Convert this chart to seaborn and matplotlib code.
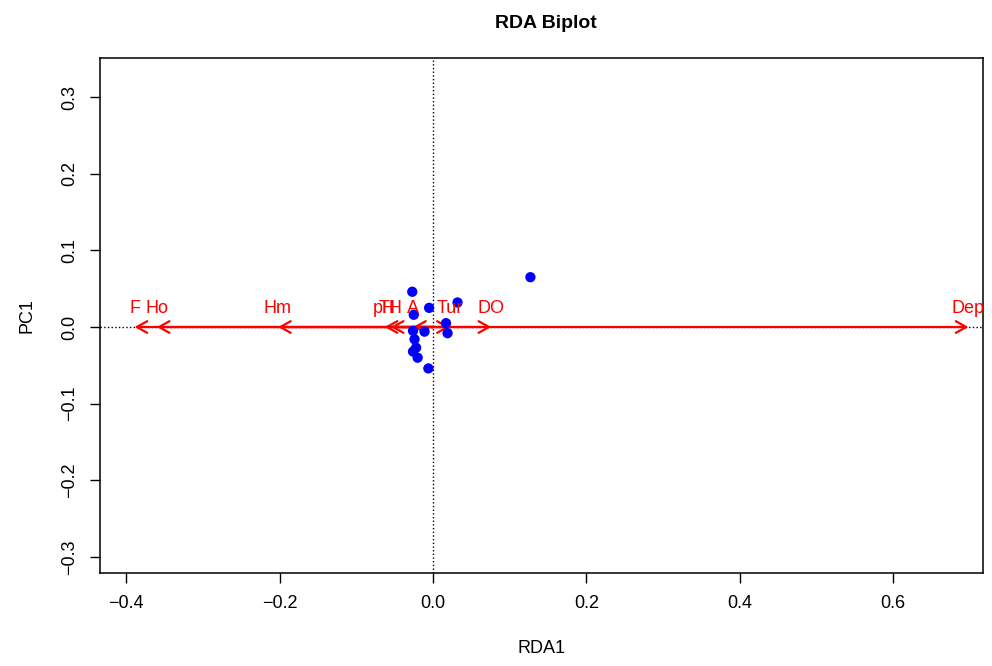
import numpy as np
import pandas as pd
import matplotlib
matplotlib.use("Agg")
import matplotlib.pyplot as plt
import seaborn as sns

# site scores (RDA1, PC1)
site_x = [-0.027, -0.025, -0.005, 0.032, 0.127, 0.017, 0.019, -0.011, -0.026,
          -0.024, -0.022, -0.026, -0.020, -0.006]
site_y = [0.046, 0.016, 0.025, 0.032, 0.065, 0.005, -0.008, -0.006, -0.005,
          -0.016, -0.027, -0.032, -0.040, -0.054]

# environmental biplot arrows (RDA1 scores, PC1 = 0)
env_names = ['F', 'Ho', 'Hm', 'pH', 'TH', 'A', 'Tur', 'DO', 'Dep']
env_x = [-0.389, -0.360, -0.202, -0.063, -0.055, -0.026, 0.022, 0.076, 0.698]
env_y = [0.0, 0.0, 0.0, 0.0, 0.0, 0.0, 0.0, 0.0, 0.0]

sns.set_style("ticks")
plt.rcParams['font.family'] = ['Liberation Sans', 'DejaVu Sans']
plt.rcParams['text.color'] = 'black'
plt.rcParams['axes.labelcolor'] = 'black'
plt.rcParams['xtick.color'] = 'black'
plt.rcParams['ytick.color'] = 'black'

fig = plt.figure(figsize=(9.92, 6.66), dpi=100)
ax = fig.add_axes([0.1008, 0.1396, 0.8902, 0.7733])

ax.axvline(0, color='black', linestyle=':', linewidth=1, zorder=1)
ax.axhline(0, color='black', linestyle=':', linewidth=1, zorder=1)

sites = pd.DataFrame({'RDA1': site_x, 'PC1': site_y})
sns.scatterplot(data=sites, x='RDA1', y='PC1', color='#0000FF', s=55,
                edgecolor='none', ax=ax, zorder=3)

for name, ex, ey in zip(env_names, env_x, env_y):
    ax.annotate('', xy=(ex, ey), xytext=(0, 0),
                arrowprops=dict(arrowstyle='->,head_length=0.75,head_width=0.42',
                                color='#FF0000', lw=1.6, shrinkA=0, shrinkB=0),
                zorder=2)
    ax.annotate(name, xy=(ex, ey), xytext=(0, 7), textcoords='offset points',
                ha='center', va='bottom', color='#FF0000', fontsize=13, zorder=4)

ax.set_xlim(-0.434, 0.717)
ax.set_ylim(-0.321, 0.351)
ax.set_xticks([-0.4, -0.2, 0.0, 0.2, 0.4, 0.6])
ax.set_xticklabels(['\u22120.4', '\u22120.2', '0.0', '0.2', '0.4', '0.6'])
ax.set_yticks([-0.3, -0.2, -0.1, 0.0, 0.1, 0.2, 0.3])
ax.set_yticklabels(['\u22120.3', '\u22120.2', '\u22120.1', '0.0', '0.1', '0.2', '0.3'],
                   rotation=90, va='center')
ax.tick_params(axis='both', length=7, width=1, labelsize=13, pad=9, color='black')

for sp in ax.spines.values():
    sp.set_visible(True)
    sp.set_color('black')
    sp.set_linewidth(1.1)

ax.set_xlabel('RDA1', fontsize=13, labelpad=20)
ax.set_ylabel('PC1', fontsize=13, labelpad=18)
fig.text(0.55, 0.965, 'RDA Biplot', ha='center', va='center',
         fontsize=14, fontweight='bold')

fig.savefig('out.png', dpi=100)
